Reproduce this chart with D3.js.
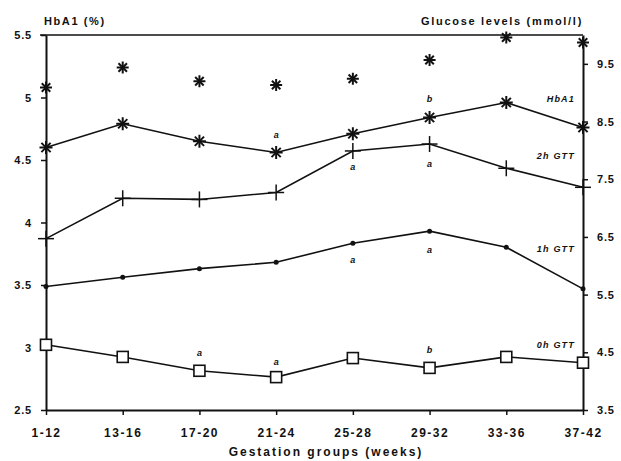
<!DOCTYPE html>
<html>
<head>
<meta charset="utf-8">
<script src="https://cdn.jsdelivr.net/npm/d3@7"></script>
<style>
  body { margin: 0; background: #fff; }
  text { font-family: "Liberation Sans", Arial, sans-serif; font-weight: bold; fill: #111; }
</style>
</head>
<body>
<div id="chart"></div>
<script>
// Gestation groups and series values
const groups = ["1-12", "13-16", "17-20", "21-24", "25-28", "29-32", "33-36", "37-42"];

// HbA1 (%), left axis
const hba1 = [4.60, 4.79, 4.65, 4.56, 4.71, 4.84, 4.96, 4.76];
const hba1Upper = [5.08, 5.24, 5.13, 5.10, 5.15, 5.30, 5.48, 5.44];

// Glucose (mmol/l), right axis
const gtt2h = [6.47, 7.17, 7.15, 7.27, 7.99, 8.11, 7.69, 7.36];
const gtt1h = [5.64, 5.80, 5.95, 6.06, 6.39, 6.60, 6.32, 5.60];
const gtt0h = [4.63, 4.42, 4.18, 4.07, 4.40, 4.23, 4.42, 4.32];

const leftTicks = [2.5, 3, 3.5, 4, 4.5, 5, 5.5];
const rightTicks = [3.5, 4.5, 5.5, 6.5, 7.5, 8.5, 9.5];

// significance letters: [group index, axis, value, letter]
const marks = [
  [3, "left", 4.70, "a"],
  [5, "left", 4.99, "b"],
  [4, "right", 7.71, "a"],
  [5, "right", 7.76, "a"],
  [4, "right", 6.11, "a"],
  [5, "right", 6.28, "a"],
  [2, "right", 4.49, "a"],
  [3, "right", 4.33, "a"],
  [5, "right", 4.54, "b"]
];

const W = 621, H = 461;
const svg = d3.select("#chart").append("svg")
  .attr("width", W).attr("height", H);

const x = d3.scalePoint().domain(groups).range([46, 583]).padding(0);
const yL = d3.scaleLinear().domain([2.5, 5.5]).range([410, 35]);
const yR = d3.scaleLinear().domain([3.5, 10]).range([410, 35]);

// top frame line
svg.append("line").attr("x1", 40).attr("x2", 583).attr("y1", 35).attr("y2", 35)
  .attr("stroke", "#111").attr("stroke-width", 1.5);

// axes
const leftAxis = svg.append("g").attr("transform", "translate(46,0)")
  .call(d3.axisLeft(yL).tickValues(leftTicks).tickSize(5).tickSizeOuter(0).tickPadding(9)
    .tickFormat(d => d3.format("~g")(d)));
const rightAxis = svg.append("g").attr("transform", "translate(583,0)")
  .call(d3.axisRight(yR).tickValues(rightTicks).tickSize(5).tickSizeOuter(0).tickPadding(9)
    .tickFormat(d3.format(".1f")));
const bottomAxis = svg.append("g").attr("transform", "translate(0,410)")
  .call(d3.axisBottom(x).tickSize(5).tickSizeOuter(0).tickPadding(13));

[leftAxis, rightAxis, bottomAxis].forEach(g => {
  g.select(".domain").attr("stroke", "#111").attr("stroke-width", 2);
  g.selectAll(".tick line").attr("stroke", "#111").attr("stroke-width", 1.5);
  g.selectAll(".tick text").attr("font-size", 11).attr("font-family", null)
    .style("letter-spacing", "0.8px");
});
bottomAxis.selectAll(".tick text").attr("font-size", 12).style("letter-spacing", "1.5px");

// axis titles
svg.append("text").attr("x", 44).attr("y", 25).attr("font-size", 11)
  .style("letter-spacing", "1.6px").text("HbA1 (%)");
svg.append("text").attr("x", 583).attr("y", 25).attr("font-size", 11)
  .attr("text-anchor", "end").style("letter-spacing", "1.7px").text("Glucose levels (mmol/l)");
svg.append("text").attr("x", 326).attr("y", 456).attr("font-size", 12)
  .attr("text-anchor", "middle").style("letter-spacing", "2px").text("Gestation groups (weeks)");

const lineL = d3.line().x((d, i) => x(groups[i])).y(d => yL(d));
const lineR = d3.line().x((d, i) => x(groups[i])).y(d => yR(d));

function drawLine(data, gen) {
  svg.append("path").datum(data).attr("d", gen)
    .attr("fill", "none").attr("stroke", "#111").attr("stroke-width", 1.6);
}
drawLine(hba1, lineL);
drawLine(gtt2h, lineR);
drawLine(gtt1h, lineR);
drawLine(gtt0h, lineR);

// asterisk marker: 4 crossing strokes
function asterisk(data, scale, r) {
  const g = svg.append("g").selectAll("g").data(data).join("g")
    .attr("transform", (d, i) => `translate(${x(groups[i])},${scale(d)})`);
  [0, 45, 90, 135].forEach(a => {
    g.append("line").attr("x1", -r).attr("x2", r).attr("y1", 0).attr("y2", 0)
      .attr("transform", `rotate(${a})`)
      .attr("stroke", "#111").attr("stroke-width", 2);
  });
}
asterisk(hba1Upper, yL, 6);
asterisk(hba1, yL, 6.5);

// plus markers for 2h
const plus = svg.append("g").selectAll("g").data(gtt2h).join("g")
  .attr("transform", (d, i) => `translate(${x(groups[i])},${yR(d)})`);
plus.append("line").attr("x1", -8).attr("x2", 8).attr("stroke", "#111").attr("stroke-width", 1.5);
plus.append("line").attr("y1", -8).attr("y2", 8).attr("stroke", "#111").attr("stroke-width", 1.5);

// dots for 1h
svg.append("g").selectAll("circle").data(gtt1h).join("circle")
  .attr("cx", (d, i) => x(groups[i])).attr("cy", d => yR(d)).attr("r", 2.5)
  .attr("fill", "#111");

// squares for 0h
svg.append("g").selectAll("rect").data(gtt0h).join("rect")
  .attr("x", (d, i) => x(groups[i]) - 5.5).attr("y", d => yR(d) - 5.5)
  .attr("width", 11).attr("height", 11)
  .attr("fill", "#fff").attr("stroke", "#111").attr("stroke-width", 1.6);

// significance letters
svg.append("g").selectAll("text").data(marks).join("text")
  .attr("x", d => x(groups[d[0]]))
  .attr("y", d => (d[1] === "left" ? yL : yR)(d[2]))
  .attr("dy", "0.35em").attr("text-anchor", "middle")
  .attr("font-size", 9).attr("font-style", "italic")
  .text(d => d[3]);

// series labels
const seriesLabels = [
  ["HbA1", "left", 4.99],
  ["2h GTT", "right", 7.9],
  ["1h GTT", "right", 6.3],
  ["0h GTT", "right", 4.63]
];
svg.append("g").selectAll("text").data(seriesLabels).join("text")
  .attr("x", 575).attr("y", d => (d[1] === "left" ? yL : yR)(d[2]))
  .attr("dy", "0.35em").attr("text-anchor", "end")
  .attr("font-size", 9).attr("font-style", "italic")
  .style("letter-spacing", "1.2px")
  .text(d => d[0]);
</script>
</body>
</html>
